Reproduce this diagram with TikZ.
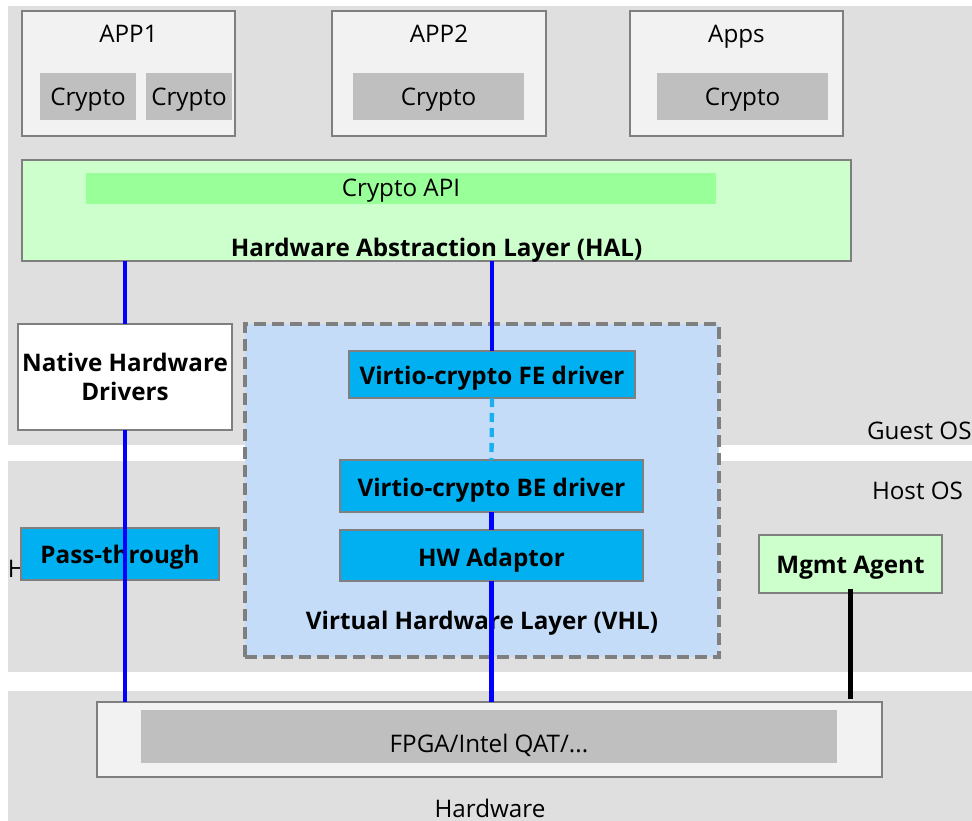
\documentclass[tikz,border=0pt]{standalone}
\usepackage{fontspec}
\setmainfont{Open Sans}
\definecolor{band}{HTML}{DFDFDF}
\definecolor{appfill}{HTML}{F2F2F2}
\definecolor{edge}{HTML}{7F7F7F}
\definecolor{cryptofill}{HTML}{BFBFBF}
\definecolor{halfill}{HTML}{CCFFCC}
\definecolor{apifill}{HTML}{99FF99}
\definecolor{vhlfill}{HTML}{C5DCF9}
\definecolor{bluebox}{HTML}{00B0F0}
\definecolor{dashblue}{HTML}{1AB0F0}
\definecolor{linkblue}{HTML}{0000FF}
\begin{document}
\begin{tikzpicture}[x=1pt,y=-1pt,
  every node/.style={inner sep=0pt, outer sep=0pt, font=\fontsize{24.2}{28}\selectfont},
  bandbox/.style={fill=band, draw=none},
  appbox/.style={rectangle, fill=appfill, draw=edge, line width=2pt},
  cryptobox/.style={rectangle, fill=cryptofill, draw=none},
  greenbox/.style={rectangle, fill=halfill, draw=edge, line width=2pt},
  bluebx/.style={rectangle, fill=bluebox, draw=edge, line width=2pt},
  lbl/.style={anchor=base},
  blbl/.style={anchor=base, font=\fontsize{24.2}{28}\selectfont\bfseries},
  link/.style={draw=linkblue, line width=4.3pt},
  dlink/.style={draw=dashblue, line width=4.3pt, dash pattern=on 9pt off 6pt},
  mlink/.style={draw=black, line width=4.3pt}]
\useasboundingbox (0,0) rectangle (972,821);
% bands
\fill[band] (8,6) rectangle (972,445);
\fill[band] (8,461) rectangle (972,672);
\fill[band] (8,691) rectangle (972,821);
\node[lbl, anchor=base west] (guestlbl) at (867,439) {Guest OS};
\node[lbl, anchor=base west] (hostlbl) at (872,499) {Host OS};
\node[lbl] (hwlbl) at (490,817) {Hardware};
% apps
\node[appbox, minimum width=213, minimum height=125] (app1) at (128.5,73.5) {};
\node[appbox, minimum width=214, minimum height=125] (app2) at (439,73.5) {};
\node[appbox, minimum width=213, minimum height=125] (apps) at (736.5,73.5) {};
\node[lbl] (app1t) at (128.5,43) {APP1};
\node[lbl] (app2t) at (439,43) {APP2};
\node[lbl] (appst) at (736.5,43) {Apps};
\node[cryptobox, minimum width=96, minimum height=47] (c1) at (88,96.5) {};
\node[cryptobox, minimum width=86, minimum height=47] (c2) at (189,96.5) {};
\node[cryptobox, minimum width=171, minimum height=47] (c3) at (438.5,96.5) {};
\node[cryptobox, minimum width=171, minimum height=47] (c4) at (742.5,96.5) {};
\node[lbl] (c1t) at (88,106) {Crypto};
\node[lbl] (c2t) at (189,106) {Crypto};
\node[lbl] (c3t) at (438.5,106) {Crypto};
\node[lbl] (c4t) at (742.5,106) {Crypto};
% HAL
\node[greenbox, minimum width=829, minimum height=101] (hal) at (436.5,210.5) {};
\node[rectangle, fill=apifill, minimum width=630, minimum height=31] (api) at (401,188.5) {};
\node[lbl] (apit) at (401,197) {Crypto API};
\node[blbl] (halt) at (436.5,256) {Hardware Abstraction Layer (HAL)};
% VHL
\node[rectangle, fill=vhlfill, draw=edge, line width=3.2pt, dash pattern=on 12pt off 6pt,
      minimum width=474, minimum height=333] (vhl) at (482,490.5) {};
\node[blbl] (vhlt) at (482,629) {Virtual Hardware Layer (VHL)};
\node[bluebx, minimum width=286, minimum height=47] (fe) at (492,374.5) {};
\node[blbl] (fet) at (492,384) {Virtio-crypto FE driver};
\node[bluebx, minimum width=303, minimum height=52] (be) at (491.5,486) {};
\node[blbl] (bet) at (491.5,496) {Virtio-crypto BE driver};
\node[bluebx, minimum width=303, minimum height=51] (hwa) at (491.5,555.5) {};
\node[blbl] (hwat) at (491.5,566) {HW Adaptor};
% left side
\node[lbl, anchor=base west] (hfrag) at (8,577) {H};
\node[bluebx, minimum width=198, minimum height=52] (pass) at (120,554) {};
\node[blbl] (passt) at (120,563) {Pass-through};
\node[rectangle, fill=white, draw=edge, line width=2pt, minimum width=214, minimum height=106] (nhd) at (125,377) {};
\node[blbl] (nhdt1) at (125,371) {Native Hardware};
\node[blbl] (nhdt2) at (125,400) {Drivers};
% mgmt
\node[greenbox, minimum width=183, minimum height=58] (mgmt) at (850.5,564) {};
\node[blbl] (mgmtt) at (850.5,573) {Mgmt Agent};
% hardware
\node[appbox, minimum width=785, minimum height=75] (hw) at (489.5,739.5) {};
\node[cryptobox, minimum width=696, minimum height=53] (hwin) at (489,736.5) {};
\node[lbl] (hwint) at (489,752) {FPGA/Intel QAT/...};
% connectors
\draw[link] (hal.south -| nhd.north) -- (nhd.north);
\draw[link] (nhd.south) -- (nhd.south |- hw.north);
\draw[link] (hal.south -| fe.north) -- (fe.north);
\draw[dlink] (fe.south) -- (be.north);
\draw[link] (be.south) -- (hwa.north);
\draw[link] (hwa.south) -- (hwa.south |- hw.north);
\draw[mlink] ([yshift=4]mgmt.south) -- ([yshift=3]mgmt.south |- hw.north);
\end{tikzpicture}
\end{document}
